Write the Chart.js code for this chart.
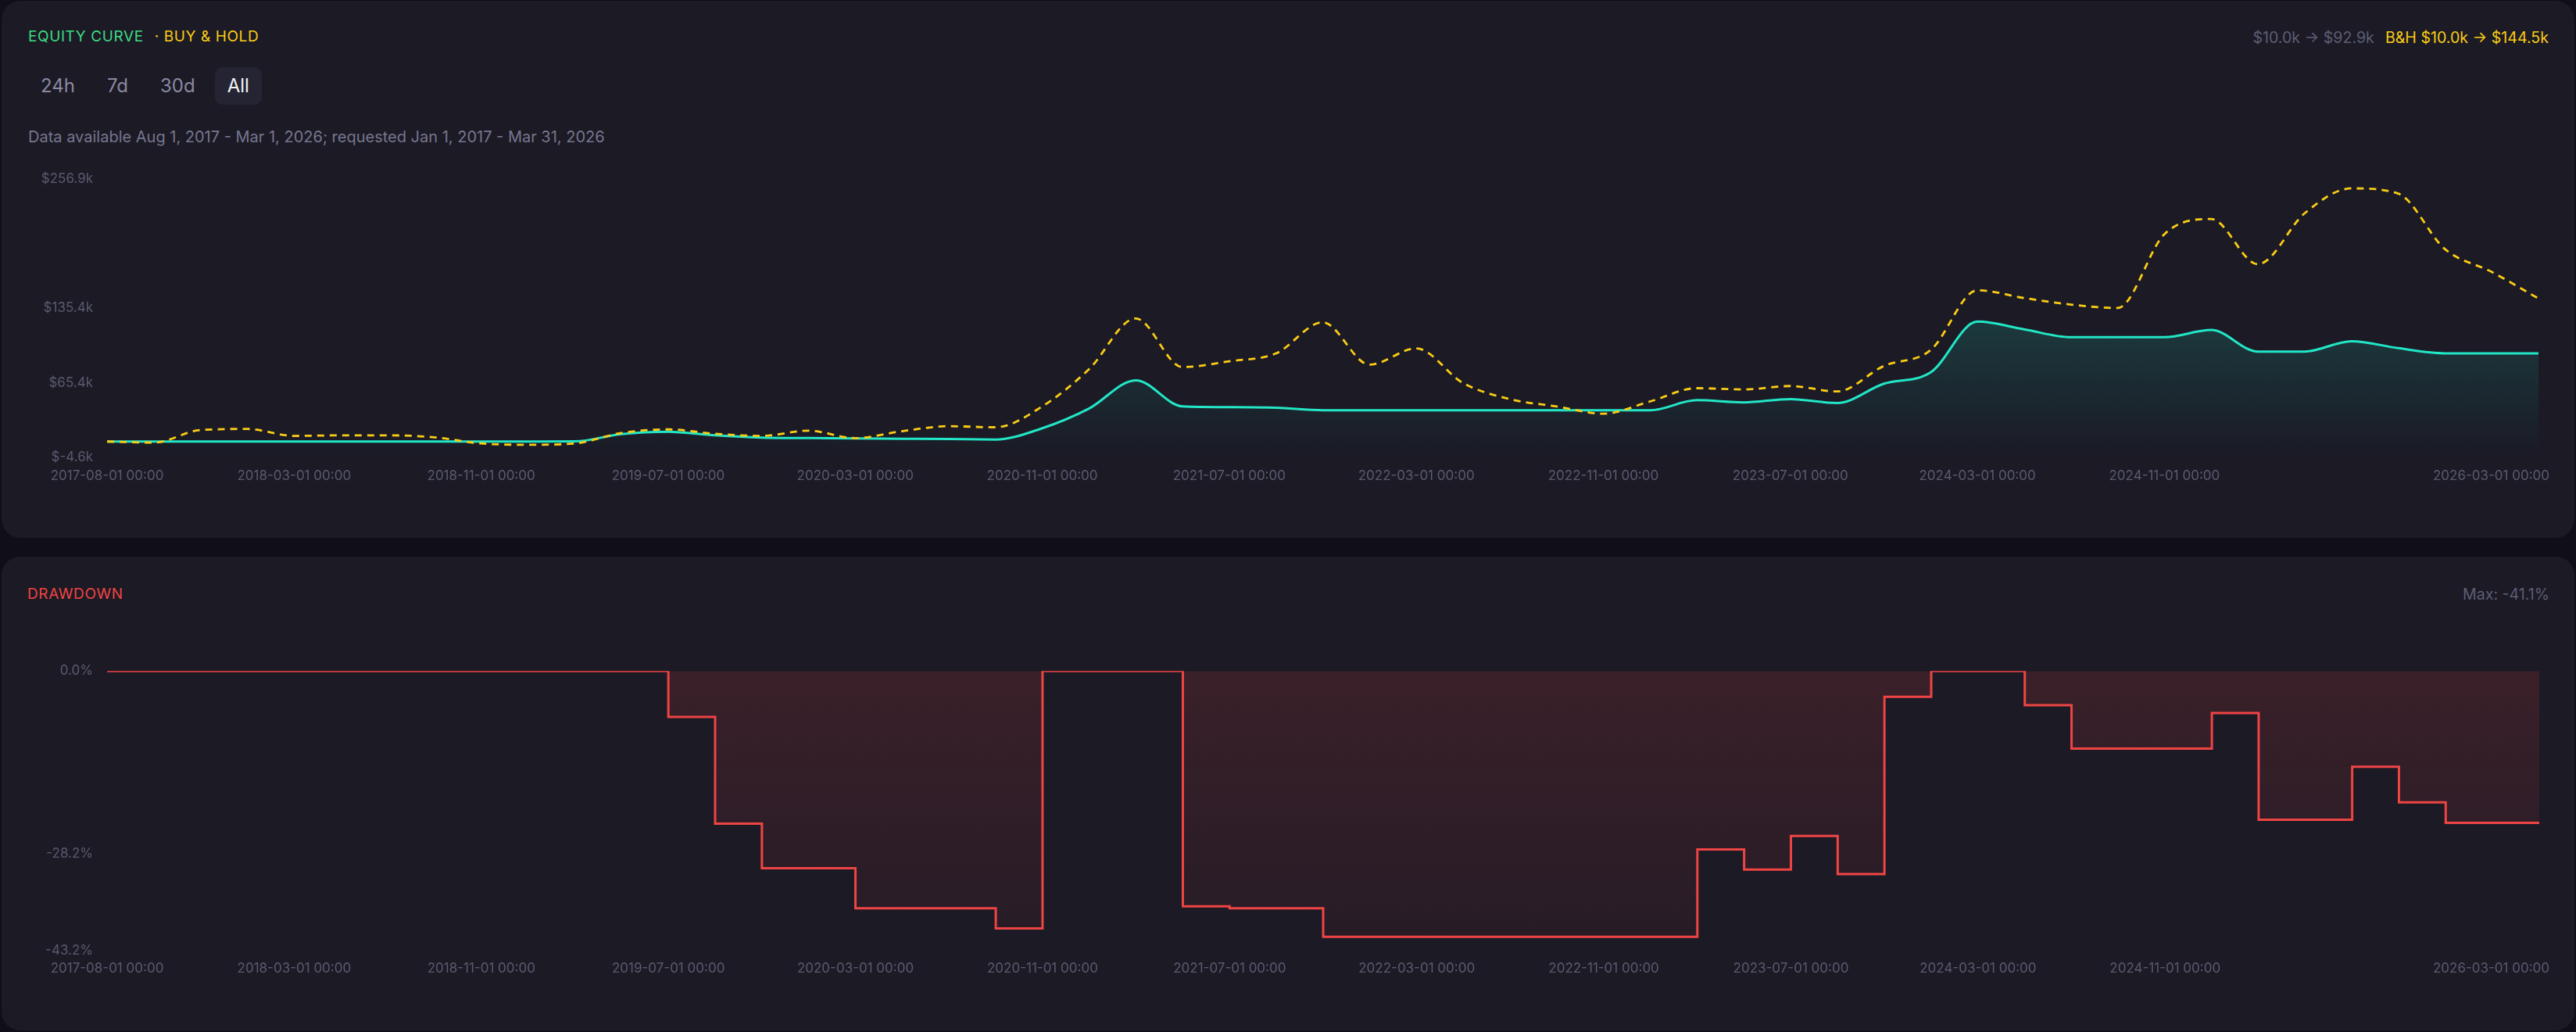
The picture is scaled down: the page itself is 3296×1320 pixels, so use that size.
<!DOCTYPE html>
<html>
<head>
<meta charset="utf-8">
<title>Equity curve</title>
<script src="https://cdn.jsdelivr.net/npm/chart.js@4.4.1/dist/chart.umd.min.js"></script>
<style>
  html, body { margin: 0; padding: 0; }
  body {
    width: 3296px; height: 1320px; overflow: hidden; position: relative;
    background: #100f19; font-family: Inter, "Noto Sans", sans-serif;
  }
  .card { position: absolute; left: 2px; width: 3292px; background: #1b1a25; border-radius: 24px; }
  #equityCard { top: 1px; height: 687px; }
  #ddCard { top: 712px; height: 606px; }
  .title { position: absolute; left: 34px; font-size: 19px; line-height: 24px; letter-spacing: 0.6px; }
  #equityCard .title { top: 34px; color: #3ddc84; }
  #equityCard .title span { color: #facc15; margin-left: 14px; }
  #ddCard .title { top: 36px; left: 33px; color: #ef4444; }
  .stats { position: absolute; right: 33px; font-size: 19.6px; line-height: 24px; color: #5e5d74; }
  #equityCard .stats { top: 35px; }
  #equityCard .stats span { color: #facc15; margin-left: 14px; }
  #ddCard .stats { top: 36px; right: 32px; }
  .ranges { position: absolute; left: 34px; top: 85px; display: flex; gap: 9px; }
  .ranges div {
    height: 48px; line-height: 48px; padding: 0 16px; border-radius: 10px;
    font-size: 24px; color: #8a89a2;
  }
  .ranges div.on { background: #252432; color: #f4f4f8; }
  .note { position: absolute; left: 34px; top: 162px; font-size: 20px; line-height: 24px; color: #77768e; }
  .plot { position: absolute; left: 34px; width: 3226px; height: 445px; }
  #equityCard .plot { top: 199px; }
  #ddCard .plot { top: 118px; }
</style>
</head>
<body>

<div class="card" id="equityCard">
  <div class="title">EQUITY CURVE<span>· BUY &amp; HOLD</span></div>
  <div class="stats" id="equityStats"></div>
  <div class="ranges">
    <div>24h</div><div>7d</div><div>30d</div><div class="on">All</div>
  </div>
  <div class="note">Data available Aug 1, 2017 - Mar 1, 2026; requested Jan 1, 2017 - Mar 31, 2026</div>
  <div class="plot"><canvas id="equityChart"></canvas></div>
</div>

<div class="card" id="ddCard">
  <div class="title">DRAWDOWN</div>
  <div class="stats" id="ddStats"></div>
  <div class="plot"><canvas id="ddChart"></canvas></div>
</div>

<script>
// point dates (one point roughly every two months)
const dates = [
  '2017-08-01', '2017-09-01', '2017-11-01', '2018-01-01', '2018-03-01', '2018-05-01',
  '2018-07-01', '2018-09-01', '2018-11-01', '2019-01-01', '2019-03-01', '2019-05-01',
  '2019-07-01', '2019-09-01', '2019-11-01', '2020-01-01', '2020-03-01', '2020-05-01',
  '2020-07-01', '2020-09-01', '2020-11-01', '2021-01-01', '2021-03-01', '2021-05-01',
  '2021-07-01', '2021-09-01', '2021-11-01', '2022-01-01', '2022-03-01', '2022-05-01',
  '2022-07-01', '2022-09-01', '2022-11-01', '2023-01-01', '2023-03-01', '2023-05-01',
  '2023-07-01', '2023-09-01', '2023-11-01', '2024-01-01', '2024-03-01', '2024-05-01',
  '2024-07-01', '2024-09-01', '2024-11-01', '2025-01-01', '2025-03-01', '2025-05-01',
  '2025-07-01', '2025-09-01', '2025-11-01', '2026-01-01', '2026-03-01'
];

// strategy equity, $k
const equity = [
  10.0, 10.0, 10.0, 10.0, 10.0, 10.0, 10.0, 10.0, 10.0, 10.0, 10.1, 17.0,
  19.2, 15.8, 13.7, 13.3, 12.9, 12.6, 12.3, 11.9, 22.5, 41.0, 67.6, 43.0,
  42.3, 41.8, 39.4, 39.4, 39.4, 39.4, 39.4, 39.4, 39.4, 39.4, 48.9, 46.8,
  49.9, 46.2, 64.4, 75.0, 122.8, 115.5, 108.1, 108.1, 108.1, 114.9, 94.6, 94.6,
  104.4, 97.8, 93.0, 92.9, 92.9
];

// buy & hold, $k
const buyHold = [
  10.0, 9.0, 20.8, 21.8, 15.3, 15.8, 15.8, 14.0, 8.2, 7.0, 8.2, 18.0,
  21.4, 17.3, 15.3, 20.2, 13.2, 19.7, 24.4, 23.4, 43.0, 78.0, 125.8, 80.0,
  85.5, 92.9, 122.1, 82.3, 97.6, 65.0, 49.9, 43.0, 36.2, 47.7, 60.2, 59.0,
  62.2, 57.1, 81.1, 96.0, 152.3, 145.0, 138.8, 135.6, 205.0, 219.3, 176.8, 224.7,
  248.1, 243.2, 191.0, 169.5, 144.5
];

// drawdown, %
const drawdown = [
  0, 0, 0, 0, 0, 0, 0, 0, 0, 0, 0, 0,
  -7.1, -23.6, -30.5, -30.5, -36.7, -36.7, -36.7, -39.8, 0, 0, 0, -36.4,
  -36.7, -36.7, -41.1, -41.1, -41.1, -41.1, -41.1, -41.1, -41.1, -41.1, -27.6, -30.7,
  -25.5, -31.4, -4.0, 0, 0, -5.3, -12.0, -12.0, -12.0, -6.5, -23.0, -23.0,
  -14.8, -20.3, -23.5, -23.5, -23.5
];

const equityTicks = [-4.6, 65.4, 135.4, 256.9];
const drawdownTicks = [-43.2, -28.2, 0.0];

const TEAL = '#22e6c6';
const YELLOW = '#facc15';
const RED = '#ef4444';
const TICK = '#5b5a70';
const last = dates.length - 1;

document.getElementById('equityStats').innerHTML =
  '$' + equity[0].toFixed(1) + 'k → $' + equity[last].toFixed(1) + 'k' +
  '<span>B&amp;H $' + buyHold[0].toFixed(1) + 'k → $' + buyHold[last].toFixed(1) + 'k</span>';
document.getElementById('ddStats').textContent = 'Max: ' + Math.min(...drawdown).toFixed(1) + '%';

Chart.defaults.font.family = 'Inter';
Chart.defaults.font.size = 17;
Chart.defaults.color = TICK;

const fmtDate = (d) => d + ' 00:00';

// the last date label is kept inside the canvas instead of centred on its point
const lastDateLabel = {
  id: 'lastDateLabel',
  afterDraw(chart) {
    const xs = chart.scales.x;
    const opts = xs.options.ticks;
    const font = Chart.helpers.toFont(opts.font);
    const text = fmtDate(dates[last]);
    const ctx = chart.ctx;
    ctx.save();
    ctx.font = font.string;
    ctx.fillStyle = TICK;
    ctx.textBaseline = 'middle';
    ctx.textAlign = 'right';
    const w = ctx.measureText(text).width;
    const x = Math.min(xs.getPixelForValue(last) + w / 2, chart.width);
    ctx.fillText(text, x, xs.top + opts.padding + font.lineHeight / 2);
    ctx.restore();
  }
};

function xAxis(pad) {
  return {
    grid: { display: false, drawTicks: false },
    border: { display: false },
    ticks: {
      autoSkip: false, maxRotation: 0, minRotation: 0, padding: pad,
      callback(value, index) {
        return (index % 4 === 0 && index <= last - 8) ? fmtDate(dates[index]) : '';
      }
    }
  };
}

function yAxis(min, max, ticks, fmt) {
  return {
    min, max,
    grid: { display: false, drawTicks: false },
    border: { display: false },
    afterBuildTicks(scale) { scale.ticks = ticks.map(v => ({ value: v })); },
    afterFit(scale) { scale.width = 101; },
    ticks: { padding: 18, callback: fmt }
  };
}

function fade(rgb, a0, a1) {
  return (c) => {
    const area = c.chart.chartArea;
    if (!area) return 'transparent';
    const g = c.chart.ctx.createLinearGradient(0, area.top, 0, area.bottom);
    g.addColorStop(0, 'rgba(' + rgb + ',' + a0 + ')');
    g.addColorStop(1, 'rgba(' + rgb + ',' + a1 + ')');
    return g;
  };
}

new Chart(document.getElementById('equityChart'), {
  type: 'line',
  data: {
    labels: dates,
    datasets: [
      {
        label: 'Buy & Hold',
        data: buyHold,
        borderColor: YELLOW,
        borderWidth: 2.8,
        borderDash: [9, 7],
        fill: false,
        cubicInterpolationMode: 'monotone',
        pointRadius: 0
      },
      {
        label: 'Equity',
        data: equity,
        borderColor: TEAL,
        borderWidth: 3,
        backgroundColor: fade('34,230,198', 0.32, 0),
        fill: 'start',
        cubicInterpolationMode: 'monotone',
        pointRadius: 0
      }
    ]
  },
  options: {
    responsive: true,
    maintainAspectRatio: false,
    animation: false,
    layout: { padding: { top: 29, right: 11, bottom: 12, left: 0 } },
    plugins: { legend: { display: false }, tooltip: { enabled: false } },
    scales: {
      x: xAxis(14),
      y: yAxis(-4.6, 256.9, equityTicks, (v) => '$' + v.toFixed(1) + 'k')
    }
  },
  plugins: [lastDateLabel]
});

new Chart(document.getElementById('ddChart'), {
  type: 'line',
  data: {
    labels: dates,
    datasets: [
      {
        label: 'Drawdown',
        data: drawdown,
        borderColor: RED,
        borderWidth: 3,
        backgroundColor: fade('239,68,68', 0.15, 0.05),
        fill: 'origin',
        stepped: true,
        pointRadius: 0
      }
    ]
  },
  options: {
    responsive: true,
    maintainAspectRatio: false,
    animation: false,
    layout: { padding: { top: 23, right: 11, bottom: 13, left: 0 } },
    plugins: { legend: { display: false }, tooltip: { enabled: false } },
    scales: {
      x: xAxis(13),
      y: yAxis(-43.2, 0, drawdownTicks, (v) => v.toFixed(1) + '%')
    }
  },
  plugins: [lastDateLabel]
});
</script>
</body>
</html>
